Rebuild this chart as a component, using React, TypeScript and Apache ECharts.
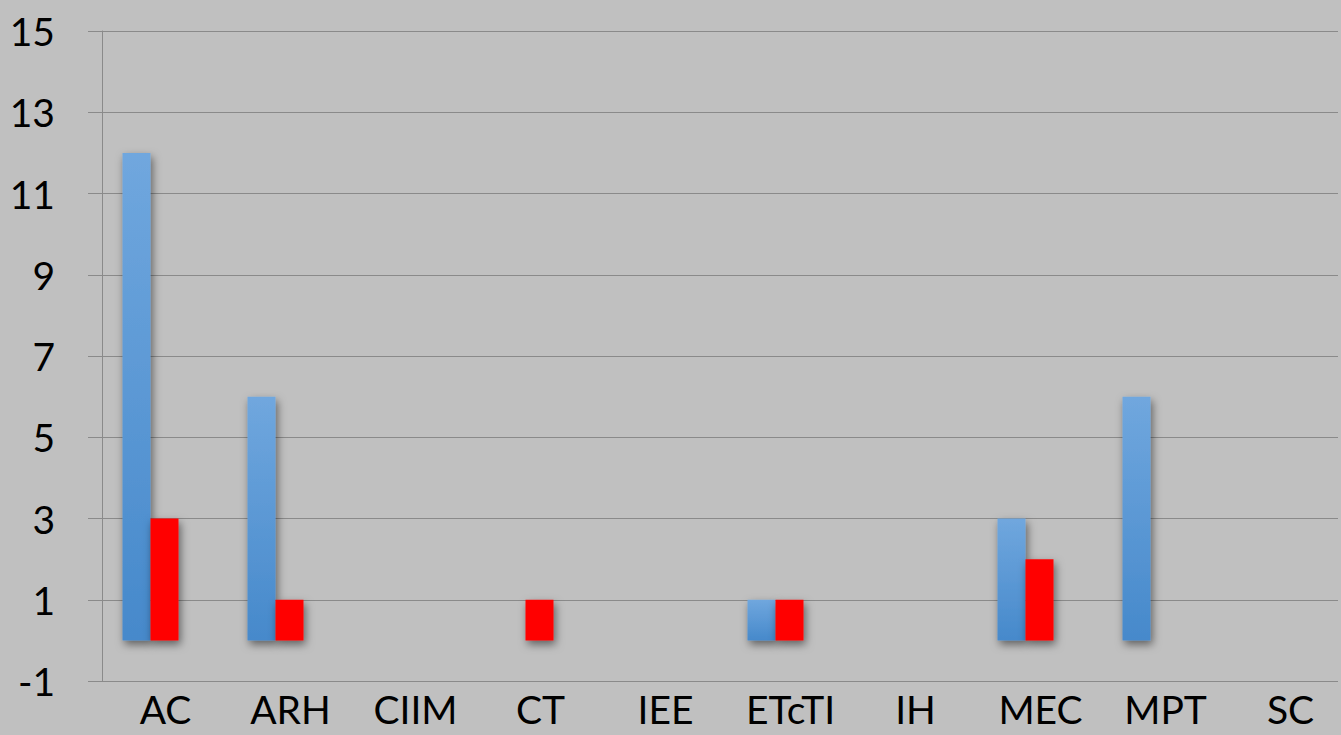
import React, { useEffect, useRef } from "react";
import * as echarts from "echarts";

const categories = ["AC", "ARH", "CIIM", "CT", "IEE", "ETcTI", "IH", "MEC", "MPT", "SC"];
const blueValues = [12, 6, 0, 0, 0, 1, 0, 3, 6, 0];
const redValues = [3, 1, 0, 1, 0, 1, 0, 2, 0, 0];
const yTickLabels = ["-1", "1", "3", "5", "7", "9", "11", "13", "15"];
const yMin = -1;
const yMax = 15;

export default function App() {
  const ref = useRef<HTMLDivElement>(null);
  useEffect(() => {
    if (!ref.current) return;
    const chart = echarts.init(ref.current, null, { renderer: "svg" });
    const font = "Lato, 'Open Sans', sans-serif";
    const shadow = {
      shadowColor: "rgba(0,0,0,0.5)",
      shadowBlur: 9,
      shadowOffsetX: 2,
      shadowOffsetY: 4,
    };
    chart.setOption({
      animation: false,
      backgroundColor: "#c0c0c0",
      grid: { left: 88, top: 31, width: 1250, height: 650, containLabel: false },
      xAxis: {
        type: "category",
        data: categories,
        axisLine: { show: false },
        axisTick: { show: false },
        axisLabel: {
          color: "#000",
          fontFamily: font,
          fontSize: 39,
          lineHeight: 34,
          margin: 11,
          padding: [0, 0, 0, 30],
          interval: 0,
        },
      },
      yAxis: [
        {
          type: "value",
          min: 0,
          max: (yTickLabels.length - 1) * 2,
          interval: 2,
          offset: -14,
          axisLine: { show: true, lineStyle: { color: "#8a8a8a", width: 1 } },
          axisTick: { show: false },
          splitLine: { show: true, lineStyle: { color: "#8a8a8a", width: 1 } },
          axisLabel: {
            color: "#000",
            fontFamily: font,
            fontSize: 39,
            margin: 47,
            formatter: (v: number) => yTickLabels[Math.round(v / 2)],
          },
        },
        {
          type: "value",
          min: yMin,
          max: yMax,
          show: false,
          splitLine: { show: false },
        },
      ],
      series: [
        {
          type: "bar",
          yAxisIndex: 1,
          data: blueValues,
          barWidth: 28,
          barGap: "0%",
          itemStyle: {
            color: new echarts.graphic.LinearGradient(0, 0, 0, 1, [
              { offset: 0, color: "#70a7de" },
              { offset: 1, color: "#4689cb" },
            ]),
            ...shadow,
          },
        },
        {
          type: "bar",
          yAxisIndex: 1,
          data: redValues,
          barWidth: 28,
          barGap: "0%",
          itemStyle: { color: "#ff0000", ...shadow },
        },
      ],
    });
    return () => chart.dispose();
  }, []);
  return (
    <div
      ref={ref}
      style={{ position: "fixed", left: 0, top: 0, width: 1341, height: 735 }}
    />
  );
}
